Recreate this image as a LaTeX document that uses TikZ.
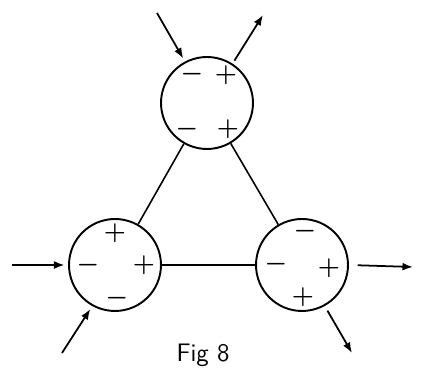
\documentclass[tikz,border=0pt]{standalone}
\usepackage{amsmath,amssymb}
\usepackage{bm}
\usepackage{tikz}
\usetikzlibrary{arrows.meta}

\tikzset{
  cell/.style={draw,circle,line width=1.1pt,minimum size=1.84cm,inner sep=0pt},
  sgn/.style={font=\Large\boldmath,inner sep=0pt},
  flow/.style={-{Latex[length=6pt,width=4.5pt]},line width=1pt,shorten >=2pt,shorten <=2pt}
}

\begin{document}
\begin{tikzpicture}[>=latex,x=0.02cm,y=-0.02cm]
\useasboundingbox (0,0) rectangle (424,381);

% three cells
\node[cell] (top) at (207,103) {};
\node[cell] (lft) at (115,265) {};
\node[cell] (rgt) at (302,265) {};

\draw[line width=0.9pt] (top) -- (lft);
\draw[line width=0.9pt] (top) -- (rgt);
\draw[line width=0.9pt] (lft) -- (rgt);

% charges
\node[sgn] (t1) at (192,74) {$-$};
\node[sgn] (t2) at (226,75) {$+$};
\node[sgn] (t3) at (187,129) {$-$};
\node[sgn] (t4) at (228,129) {$+$};

\node[sgn] (l1) at (115,233) {$+$};
\node[sgn] (l2) at (88,265) {$-$};
\node[sgn] (l3) at (144,265) {$+$};
\node[sgn] (l4) at (117,298) {$-$};

\node[sgn] (r1) at (305,231) {$-$};
\node[sgn] (r2) at (276,264) {$-$};
\node[sgn] (r3) at (329,268) {$+$};
\node[sgn] (r4) at (303,297) {$+$};

% in and out
\coordinate (tin) at (157,13);
\coordinate (tout) at (263,15);
\coordinate (lin) at (12,265);
\coordinate (lin2) at (62,353);
\coordinate (rout) at (413,267);
\coordinate (rout2) at (352,353);

\draw[flow,shorten <=0pt] (tin) -- (top.118);
\draw[flow,shorten >=0pt] (top.57) -- (tout);
\draw[flow,shorten <=0pt] (lin) -- (lft.west);
\draw[flow,shorten <=0pt] (lin2) -- (lft.241);
\draw[flow,shorten >=0pt,shorten <=5pt] (rgt.east) -- (rout);
\draw[flow,shorten >=0pt,shorten <=3pt] (rgt.-61) -- (rout2);

\node[font=\Large\sffamily] (cap) at (203,355) {Fig 8};

\end{tikzpicture}
\end{document}
